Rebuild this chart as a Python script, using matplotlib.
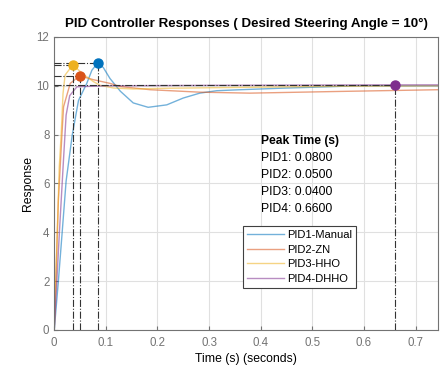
import matplotlib
matplotlib.use("Agg")
import matplotlib.pyplot as plt

plt.rcParams["font.family"] = ["Liberation Sans", "DejaVu Sans"]

# responses (piecewise, as plotted)
t1 = [0, 0.008, 0.015, 0.023, 0.035, 0.047, 0.063, 0.073, 0.084, 0.095, 0.108, 0.128,
      0.153, 0.182, 0.218, 0.25, 0.282, 0.315, 0.36, 0.437, 0.5, 0.585, 0.66, 0.743]
y1 = [0, 2.0, 3.9, 6.1, 8.0, 9.4, 10.1, 10.64, 10.93, 10.75, 10.3, 9.78,
      9.3, 9.12, 9.22, 9.5, 9.7, 9.8, 9.84, 9.9, 9.94, 10.0, 10.0, 10.0]

t2 = [0, 0.008, 0.015, 0.018, 0.031, 0.049, 0.076, 0.108, 0.128, 0.186, 0.282, 0.379, 0.553, 0.743]
y2 = [0, 5.3, 8.04, 9.14, 10.1, 10.41, 10.25, 10.1, 9.97, 9.84, 9.74, 9.7, 9.77, 9.84]

t3 = [0, 0.0097, 0.0135, 0.017, 0.021, 0.036, 0.057, 0.076, 0.089, 0.115, 0.153, 0.218, 0.379, 0.55, 0.743]
y3 = [0, 6.67, 8.04, 9.68, 10.44, 10.86, 10.46, 10.17, 10.02, 9.91, 9.87, 9.9, 9.94, 9.98, 10.0]

t4 = [0, 0.01, 0.018, 0.023, 0.03, 0.044, 0.1, 0.3, 0.66, 0.743]
y4 = [0, 4.0, 7.0, 8.8, 9.6, 9.96, 10.0, 10.02, 10.04, 10.04]

names = ["PID1-Manual", "PID2-ZN", "PID3-HHO", "PID4-DHHO"]
colors = ["#0072BD", "#D95319", "#EDB120", "#7E2F8E"]
peak_t = [0.084, 0.049, 0.036, 0.66]
peak_y = [10.93, 10.41, 10.86, 10.04]
peak_txt = ["0.0800", "0.0500", "0.0400", "0.6600"]

fig = plt.figure(figsize=(4.41, 3.68), dpi=100)
ax = fig.add_axes([0.123, 0.1033, 0.8695, 0.7962])

series = [(t1, y1), (t2, y2), (t3, y3), (t4, y4)]
for (t, y), c, n in zip(series, colors, names):
    ax.plot(t, y, color=c, lw=1.0, alpha=0.55, label=n, zorder=2)

for pt, pv, c in zip(peak_t, peak_y, colors):
    ax.plot([0, pt], [pv, pv], color="0.2", ls="-.", lw=0.8, zorder=3)
    ax.plot([pt, pt], [0, pv], color="0.2", ls="-.", lw=0.8, zorder=3)
    ax.plot(pt, pv, "o", color=c, ms=6.5, zorder=4)

ax.text(0.4, 7.76, "Peak Time (s)", fontsize=8.7, fontweight="bold", va="center", ha="left")
for i, txt in enumerate(peak_txt):
    ax.text(0.4, 7.06 - 0.7 * i, f"PID{i + 1}: {txt}", fontsize=8.7, va="center", ha="left")

ax.set_xlim(0, 0.743)
ax.set_ylim(0, 12)
ax.set_xticks([0, 0.1, 0.2, 0.3, 0.4, 0.5, 0.6, 0.7])
ax.set_xticklabels(["0", "0.1", "0.2", "0.3", "0.4", "0.5", "0.6", "0.7"])
ax.set_yticks(range(0, 13, 2))
ax.grid(True, color="0.88", lw=0.8)
ax.set_axisbelow(True)
ax.tick_params(direction="in", length=3, colors="0.45", labelsize=8.3, labelcolor="0.45")
ax.tick_params(axis="x", pad=5)
for s in ax.spines.values():
    s.set_color("0.45")
    s.set_linewidth(0.8)

ax.set_xlabel("Time (s) (seconds)", fontsize=8.8, labelpad=3)
ax.set_ylabel("Response", fontsize=8.8, labelpad=2)
ax.set_title("PID Controller Responses ( Desired Steering Angle = 10\u00b0)",
             fontsize=9.6, fontweight="bold", pad=7)

leg = ax.legend(loc="upper left", bbox_to_anchor=(0.493, 0.355), borderaxespad=0,
                fancybox=False, framealpha=1, edgecolor="0.25", fontsize=8,
                handlelength=3.3, handletextpad=0.3, labelspacing=0.42, borderpad=0.35)
leg.get_frame().set_linewidth(0.8)

fig.savefig("out.png", dpi=100)
